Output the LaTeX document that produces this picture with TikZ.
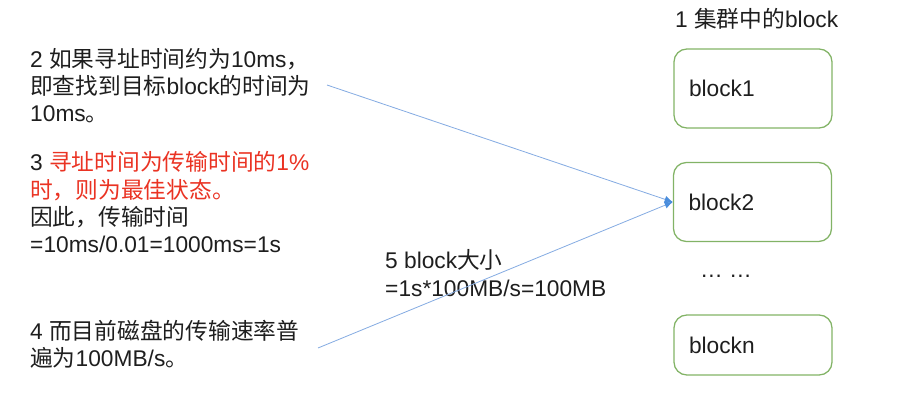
\documentclass[tikz,border=0pt]{standalone}
\usepackage{fontspec}
\setmainfont{Liberation Sans}
\newfontfamily\zh{Noto Sans CJK SC}
\usetikzlibrary{arrows.meta}
\definecolor{boxgreen}{HTML}{82B366}
\definecolor{linkblue}{HTML}{86ACE2}
\definecolor{tipblue}{HTML}{4A8DDC}
\definecolor{notered}{HTML}{EA3323}
\definecolor{ink}{HTML}{1E1E1E}

\begin{document}
\begin{tikzpicture}[x=0.03cm,y=-0.03cm,
        every node/.style={font=\fontsize{19.4}{23.4}\selectfont,text=ink},
        txt/.style={anchor=base west,align=left,inner sep=0pt},
        blk/.style={draw=boxgreen,line width=1.1pt,rounded corners=11pt,
            text width=3.84cm,inner xsep=0.45cm,align=left,minimum height=2.37cm},
        link/.style={draw=linkblue,line width=0.7pt,
            -{Latex[length=7pt,width=6pt,fill=tipblue,color=tipblue]}}]
    \useasboundingbox (0,0) rectangle (915,404);

    % text on the left (base = last line)
    \node[txt] (t2) at (30,122) {2 {\zh 如果寻址时间约为}10ms{\zh ，}\\
        {\zh 即查找到目标}block{\zh 的时间为}\\
        10ms{\zh 。}};
    \node[txt] (t3) at (30,253) {3 \textcolor{notered}{{\zh 寻址时间为传输时间的}1\%}\\
        \textcolor{notered}{\zh 时，则为最佳状态。}\\
        {\zh 因此，传输时间}\\
        =10ms/0.01=1000ms=1s};
    \node[txt] (t4) at (30,367) {4 {\zh 而目前磁盘的传输速率普}\\
        {\zh 遍为}100MB/s{\zh 。}};
    \node[txt,font=\fontsize{19.4}{24.7}\selectfont] (t5) at (385,297) {5 block{\zh 大小}\\
        =1s*100MB/s=100MB};

    % blocks in the cluster
    \node[txt] (title) at (675,28) {1 {\zh 集群中的}block};
    \node[blk] (b1) at (753,88.5) {block1};
    \node[blk] (b2) at (752.5,202) {block2};
    \node (dots) at (726,276) {\ldots\ \ldots};
    \node[blk,minimum height=1.8cm] (bn) at (753,345) {blockn};

    \coordinate (s2) at (327,85);
    \coordinate (s4) at (318,348);
    \draw[link] (s2) -- (b2.west);
    \draw[link] (s4) -- (b2.west);
\end{tikzpicture}
\end{document}
